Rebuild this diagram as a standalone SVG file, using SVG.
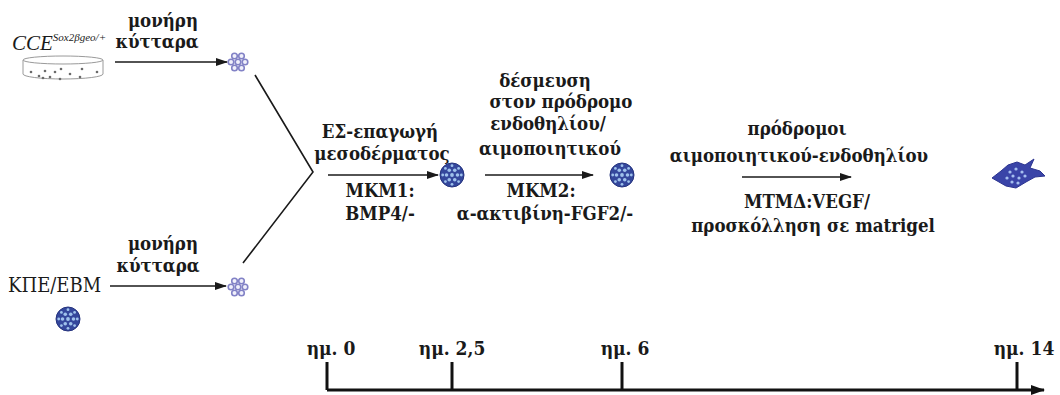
<svg xmlns="http://www.w3.org/2000/svg" width="1060" height="395" viewBox="0 0 1060 395">
  <style>
    .lbl { font-family: "DejaVu Serif", "Liberation Serif", serif; font-stretch: condensed; font-weight: bold; font-size: 18.5px; fill: #1a1a1a; text-anchor: middle; }
    .plain { font-family: "DejaVu Serif", "Liberation Serif", serif; font-stretch: condensed; font-size: 20px; fill: #1a1a1a; }
    .day { font-family: "DejaVu Serif", "Liberation Serif", serif; font-stretch: condensed; font-weight: bold; font-size: 19px; fill: #1a1a1a; text-anchor: middle; }
    .conn { stroke: #1a1a1a; stroke-width: 1.6; fill: none; }
    .axis { stroke: #111; stroke-width: 3; fill: none; }
  </style>
  <defs>
    <marker id="arrow" viewBox="0 0 12 8" refX="11" refY="4" markerWidth="12" markerHeight="8" markerUnits="userSpaceOnUse" orient="auto">
      <path d="M0,0 L12,4 L0,8 Z" fill="#1a1a1a"/>
    </marker>
    <marker id="axisArrow" viewBox="0 0 14 10" refX="13" refY="5" markerWidth="14" markerHeight="10" markerUnits="userSpaceOnUse" orient="auto">
      <path d="M0,0 L14,5 L0,10 Z" fill="#111"/>
    </marker>
    <!-- small rosette of single cells -->
    <g id="rosette">
      <g fill="#f0f0fb" stroke="#8282c6" stroke-width="1.6">
        <circle cx="-3.5" cy="-6" r="2.8"/>
        <circle cx="3.5" cy="-6" r="2.8"/>
        <circle cx="-7" cy="0" r="2.8"/>
        <circle cx="0" cy="0" r="2.8"/>
        <circle cx="7" cy="0" r="2.8"/>
        <circle cx="-3.5" cy="6" r="2.8"/>
        <circle cx="3.5" cy="6" r="2.8"/>
      </g>
    </g>
    <!-- embryoid body sphere -->
    <g id="sphere">
      <circle r="12" fill="#34479c" stroke="#26347e" stroke-width="1"/>
      <g fill="#9fc2ec">
        <circle cx="0" cy="0" r="1.9"/>
        <circle cx="5.5" cy="0" r="1.8"/>
        <circle cx="-5.5" cy="0" r="1.8"/>
        <circle cx="2.75" cy="4.8" r="1.8"/>
        <circle cx="-2.75" cy="4.8" r="1.8"/>
        <circle cx="2.75" cy="-4.8" r="1.8"/>
        <circle cx="-2.75" cy="-4.8" r="1.8"/>
        <circle cx="9.3" cy="0" r="1.4"/>
        <circle cx="-9.3" cy="0" r="1.4"/>
        <circle cx="0" cy="9.3" r="1.4"/>
        <circle cx="0" cy="-9.3" r="1.4"/>
        <circle cx="6.6" cy="6.6" r="1.4"/>
        <circle cx="-6.6" cy="6.6" r="1.4"/>
        <circle cx="6.6" cy="-6.6" r="1.4"/>
        <circle cx="-6.6" cy="-6.6" r="1.4"/>
      </g>
    </g>
  </defs>

  <rect width="1060" height="395" fill="#ffffff"/>

  <!-- source: CCE culture dish -->
  <g id="cce-dish">
    <text x="12" y="50" font-family="'Liberation Serif', serif" font-style="italic" font-size="21" fill="#1a1a1a">CCE<tspan font-size="11" dy="-9">Sox2βgeo/+</tspan></text>
    <g fill="none" stroke="#9a9a9a" stroke-width="1">
      <ellipse cx="63" cy="60" rx="40" ry="4"/>
      <path d="M23,60 L23,74 A40,5 0 0 0 103,74 L103,60"/>
    </g>
    <g fill="#6a6a6a">
      <circle cx="31" cy="72" r="1.3"/><circle cx="39" cy="76" r="1.3"/><circle cx="45" cy="71" r="1.3"/>
      <circle cx="50" cy="77" r="1.3"/><circle cx="55" cy="72" r="1.3"/><circle cx="61" cy="69" r="1.3"/>
      <circle cx="60" cy="79" r="1.3"/><circle cx="70" cy="74" r="1.3"/><circle cx="80" cy="77" r="1.3"/>
      <circle cx="82" cy="69" r="1.3"/><circle cx="97" cy="72" r="1.3"/><circle cx="43" cy="78" r="1.3"/>
    </g>
  </g>

  <!-- source: hESC line -->
  <g id="hesc">
    <text class="plain" x="8" y="292">ΚΠΕ/ΕΒΜ</text>
    <use href="#sphere" x="68" y="319"/>
  </g>

  <g id="single-cells-top">
    <use href="#rosette" x="238" y="62"/>
  </g>
  <g id="single-cells-bottom">
    <use href="#rosette" x="238" y="287"/>
  </g>
  <g id="eb-day2">
    <use href="#sphere" x="452" y="175"/>
  </g>
  <g id="eb-day6">
    <use href="#sphere" x="622" y="175"/>
  </g>
  <!-- attached spreading colony -->
  <g id="colony-day14">
    <path d="M992,178 L1001,171 L1008,165 L1017,162 L1025,165 L1034,159 L1030,168 L1040,171 L1045,176 L1035,177 L1026,182 L1016,188 L1006,186 L999,182 Z" fill="#3a44a8" stroke="#2c3490" stroke-width="1"/>
    <g fill="#a6bff0">
      <circle cx="1010" cy="172" r="1.6"/><circle cx="1016" cy="169" r="1.6"/><circle cx="1022" cy="172" r="1.6"/>
      <circle cx="1007" cy="178" r="1.6"/><circle cx="1013" cy="176" r="1.6"/><circle cx="1019" cy="178" r="1.6"/>
      <circle cx="1025" cy="176" r="1.6"/><circle cx="1012" cy="182" r="1.6"/><circle cx="1018" cy="183" r="1.6"/>
    </g>
  </g>

  <!-- connectors -->
  <g id="connectors">
    <line class="conn" x1="115" y1="62" x2="227" y2="62" marker-end="url(#arrow)"/>
    <line class="conn" x1="110" y1="286" x2="226" y2="286" marker-end="url(#arrow)"/>
    <polyline class="conn" points="255,75 313,172 243,263"/>
    <line class="conn" x1="328" y1="175" x2="438" y2="175" marker-end="url(#arrow)"/>
    <line class="conn" x1="485" y1="175" x2="593" y2="175" marker-end="url(#arrow)"/>
    <line class="conn" x1="742" y1="177" x2="851" y2="177" marker-end="url(#arrow)"/>
  </g>

  <!-- connector labels -->
  <g id="labels">
    <text class="lbl" x="163" y="27">μονήρη</text>
    <text class="lbl" x="157" y="48">κύτταρα</text>
    <text class="lbl" x="163" y="250">μονήρη</text>
    <text class="lbl" x="158" y="272">κύτταρα</text>

    <text class="lbl" x="380" y="138">ΕΣ-επαγωγή</text>
    <text class="lbl" x="382" y="160">μεσοδέρματος</text>
    <text class="lbl" x="380" y="197">ΜΚΜ1:</text>
    <text class="lbl" x="380" y="220">BMP4/-</text>

    <text class="lbl" x="545" y="87">δέσμευση</text>
    <text class="lbl" x="561" y="108">στον πρόδρομο</text>
    <text class="lbl" x="548" y="130">ενδοθηλίου/</text>
    <text class="lbl" x="550" y="155">αιμοποιητικού</text>
    <text class="lbl" x="541" y="197">ΜΚΜ2:</text>
    <text class="lbl" x="545" y="220">α-ακτιβίνη-FGF2/-</text>

    <text class="lbl" x="797" y="135">πρόδρομοι</text>
    <text class="lbl" x="799" y="162">αιμοποιητικού-ενδοθηλίου</text>
    <text class="lbl" x="807" y="208">ΜΤΜΔ:VEGF/</text>
    <text class="lbl" x="813" y="232">προσκόλληση σε matrigel</text>
  </g>

  <!-- time axis -->
  <g id="timeline">
    <line class="axis" x1="327" y1="390" x2="1044" y2="390" marker-end="url(#axisArrow)"/>
    <line class="axis" x1="327" y1="362" x2="327" y2="390"/>
    <line class="axis" x1="452" y1="362" x2="452" y2="390"/>
    <line class="axis" x1="622" y1="362" x2="622" y2="390"/>
    <line class="axis" x1="1017" y1="362" x2="1017" y2="390"/>
    <text class="day" x="331" y="355">ημ. 0</text>
    <text class="day" x="452" y="355">ημ. 2,5</text>
    <text class="day" x="625" y="355">ημ. 6</text>
    <text class="day" x="1024" y="355">ημ. 14</text>
  </g>
</svg>
